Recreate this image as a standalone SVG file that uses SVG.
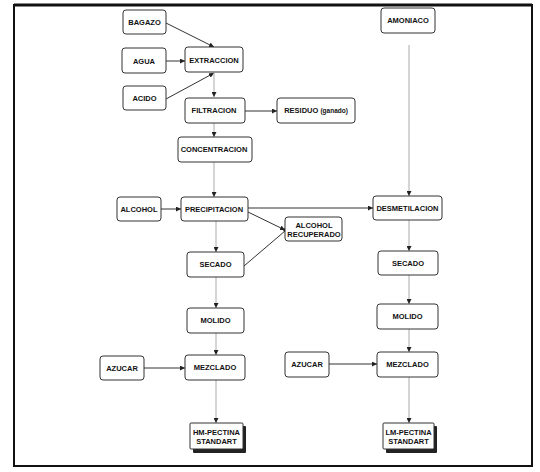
<svg xmlns="http://www.w3.org/2000/svg" width="540" height="472" viewBox="0 0 540 472">
<defs>
<style>
.box{fill:#fff;stroke:#333;stroke-width:1}
.t{font-family:"Liberation Sans",Arial,sans-serif;font-size:7.5px;font-weight:bold;fill:#111;text-anchor:middle;dominant-baseline:central}
.h{stroke:#333;stroke-width:1;fill:none}
.v{stroke:#aaa;stroke-width:1;fill:none}
.sh{fill:#222}
</style>
<marker id="a" viewBox="0 0 6 6" refX="6" refY="3" markerWidth="5" markerHeight="5" orient="auto" markerUnits="userSpaceOnUse">
<path d="M0,0 L6,3 L0,6 z" fill="#222"/>
</marker>
</defs>
<rect x="0" y="0" width="540" height="472" fill="#fff"/>
<rect x="14" y="5" width="518" height="461" fill="none" stroke="#111" stroke-width="2"/>
<line x1="14" y1="5" x2="532" y2="5" stroke="#111" stroke-width="3"/>

<g id="connectors">
<line class="h" x1="166" y1="23" x2="214" y2="47" marker-end="url(#a)"/>
<line class="h" x1="166" y1="61" x2="185" y2="61" marker-end="url(#a)"/>
<line class="h" x1="166" y1="99" x2="214" y2="73" marker-end="url(#a)"/>
<line class="v" x1="214" y1="73" x2="214" y2="97" marker-end="url(#a)"/>
<line class="h" x1="245" y1="111" x2="277" y2="111" marker-end="url(#a)"/>
<line class="v" x1="214" y1="123" x2="214" y2="137" marker-end="url(#a)"/>
<line class="v" x1="214" y1="162" x2="214" y2="197" marker-end="url(#a)"/>
<line class="h" x1="161" y1="209" x2="181" y2="209" marker-end="url(#a)"/>
<line class="h" x1="248" y1="208" x2="373" y2="208" stroke-width="1.3" marker-end="url(#a)"/>
<line class="h" x1="248" y1="212" x2="285" y2="230" marker-end="url(#a)"/>
<line class="h" x1="244" y1="266" x2="285" y2="231"/>
<circle cx="285" cy="230" r="1.8" fill="#111"/>
<line class="v" x1="216" y1="221" x2="216" y2="252" marker-end="url(#a)"/>
<line class="v" x1="216" y1="277" x2="216" y2="308" marker-end="url(#a)"/>
<line class="v" x1="216" y1="333" x2="216" y2="355" marker-end="url(#a)"/>
<line class="h" x1="144" y1="368" x2="185" y2="368" marker-end="url(#a)"/>
<line class="v" x1="216" y1="380" x2="216" y2="423" marker-end="url(#a)"/>
<line class="v" x1="409" y1="45" x2="409" y2="196" marker-end="url(#a)"/>
<line class="v" x1="409" y1="220" x2="409" y2="251" marker-end="url(#a)"/>
<line class="v" x1="409" y1="275" x2="409" y2="304" marker-end="url(#a)"/>
<line class="v" x1="409" y1="329" x2="409" y2="352" marker-end="url(#a)"/>
<line class="h" x1="329" y1="364" x2="377" y2="364" marker-end="url(#a)"/>
<line class="v" x1="409" y1="377" x2="409" y2="423" marker-end="url(#a)"/>
</g>

<g id="bagazo"><rect class="box" x="123" y="10" width="43" height="24" rx="3"/><text class="t" x="144.5" y="22">BAGAZO</text></g>
<g id="agua"><rect class="box" x="122" y="48" width="44" height="25" rx="3"/><text class="t" x="144" y="61">AGUA</text></g>
<g id="acido"><rect class="box" x="123" y="86" width="43" height="24" rx="3"/><text class="t" x="144.5" y="98">ACIDO</text></g>
<g id="extraccion"><rect class="box" x="185" y="47" width="58" height="25" rx="3"/><text class="t" x="214" y="60">EXTRACCION</text></g>
<g id="filtracion"><rect class="box" x="185" y="98" width="60" height="25" rx="3"/><text class="t" x="214" y="110">FILTRACION</text></g>
<g id="residuo"><rect class="box" x="277" y="98" width="78" height="25" rx="3"/><text class="t" x="316" y="110">RESIDUO <tspan font-size="6.5">(ganado)</tspan></text></g>
<g id="concentracion"><rect class="box" x="178" y="137" width="74" height="25" rx="3"/><text class="t" x="214" y="149">CONCENTRACION</text></g>
<g id="alcohol"><rect class="box" x="117" y="197" width="44" height="24" rx="3"/><text class="t" x="139" y="209">ALCOHOL</text></g>
<g id="precipitacion"><rect class="box" x="181" y="197" width="67" height="24" rx="3"/><text class="t" x="214" y="209">PRECIPITACION</text></g>
<g id="alcohol-recuperado"><rect class="box" x="285" y="217" width="57" height="24" rx="3"/><text class="t" x="314" y="225">ALCOHOL</text><text class="t" x="314" y="234">RECUPERADO</text></g>
<g id="secado1"><rect class="box" x="187" y="252" width="57" height="25" rx="3"/><text class="t" x="215.5" y="264">SECADO</text></g>
<g id="molido1"><rect class="box" x="187" y="308" width="57" height="25" rx="3"/><text class="t" x="215.5" y="320">MOLIDO</text></g>
<g id="azucar1"><rect class="box" x="100" y="356" width="44" height="24" rx="3"/><text class="t" x="122" y="368">AZUCAR</text></g>
<g id="mezclado1"><rect class="box" x="185" y="355" width="60" height="25" rx="3"/><text class="t" x="215" y="367">MEZCLADO</text></g>
<g id="hm-pectina"><rect class="sh" x="193" y="426" width="53" height="27" rx="1"/><rect class="box" x="190" y="423" width="53" height="26" rx="1"/><text class="t" x="216.5" y="432">HM-PECTINA</text><text class="t" x="216.5" y="441">STANDART</text></g>
<g id="amoniaco"><rect class="box" x="381" y="8" width="54" height="25" rx="3"/><text class="t" x="408" y="20">AMONIACO</text></g>
<g id="desmetilacion"><rect class="box" x="373" y="196" width="69" height="24" rx="3"/><text class="t" x="407.5" y="208">DESMETILACION</text></g>
<g id="secado2"><rect class="box" x="378" y="251" width="60" height="24" rx="3"/><text class="t" x="408" y="263">SECADO</text></g>
<g id="molido2"><rect class="box" x="377" y="304" width="61" height="25" rx="3"/><text class="t" x="407.5" y="316">MOLIDO</text></g>
<g id="azucar2"><rect class="box" x="285" y="352" width="44" height="25" rx="3"/><text class="t" x="307" y="364">AZUCAR</text></g>
<g id="mezclado2"><rect class="box" x="377" y="352" width="61" height="25" rx="3"/><text class="t" x="407.5" y="364">MEZCLADO</text></g>
<g id="lm-pectina"><rect class="sh" x="386" y="426" width="51" height="27" rx="1"/><rect class="box" x="383" y="423" width="51" height="26" rx="1"/><text class="t" x="408.5" y="432">LM-PECTINA</text><text class="t" x="408.5" y="441">STANDART</text></g>
</svg>
